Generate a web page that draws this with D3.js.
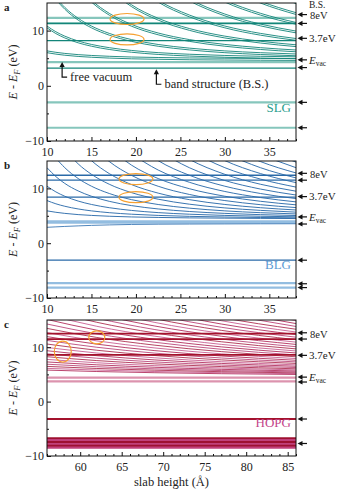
<!DOCTYPE html>
<html><head><meta charset="utf-8">
<script src="https://cdn.jsdelivr.net/npm/d3@7"></script>
<style>
body{margin:0;background:#fff}
svg{display:block}
text{font-family:"Liberation Serif","DejaVu Serif",serif;fill:#222}
</style>
</head><body>
<svg id="chart" width="339" height="492"></svg>
<script>
// ---------------- DATA ----------------
const yTicks = [-10, 0, 10];
const yMinor = [-5, 5];
const slgXTicks = [10, 15, 20, 25, 30, 35];
const hopgXTicks = [60, 65, 70, 75, 80, 85];

// slab heights (Å) at which the slab-state energies were read
const gridSLG = [10, 11, 12, 13.5, 15, 17, 19.5, 22.5, 26, 30, 34, 38];
const gridBLG = [10, 11, 12, 13.5, 15, 17, 19.5, 22.5, 26, 30, 34, 38];
const gridHOPG = [56, 62, 69, 77, 86];

// SLG slab states (eV) — each appears as a close pair of lines
const slgCurves = [
  [6.0,5.74,5.54,5.32,5.17,5.02,4.89,4.80,4.72,4.67,4.63,4.60],
  [10.5,9.46,8.67,7.79,7.17,6.58,6.08,5.68,5.39,5.17,5.02,4.92],
  [18.0,15.66,13.88,11.91,10.5,9.17,8.05,7.16,6.5,6.0,5.67,5.44],
  [null,null,null,17.67,15.17,12.8,10.8,9.24,8.05,7.17,6.58,6.16],
  [null,null,null,null,null,17.5,14.35,11.9,10.05,8.67,7.75,7.1],
  [null,null,null,null,null,null,18.7,15.16,12.5,10.5,9.17,8.24],
  [null,null,null,null,null,null,null,19.0,15.4,12.67,10.86,9.59],
  [null,null,null,null,null,null,null,null,18.7,15.17,12.81,11.15],
  [null,null,null,null,null,null,null,null,null,18.0,15.0,12.92],
  [null,null,null,null,null,null,null,null,null,null,17.48,14.89]
];
const slgFlatLight = [12.3, 11.3, 4.3, -3.0, -7.6];
const slgFlatDark = [11.3, 8.2, 3.2];
const slgArrows = [12.9, 11.3, 8.6, 4.7, 3.3, -3.0, -7.6];

// BLG slab states (eV)
const blgCurves = [
  [5.9,5.64,5.44,5.22,5.07,4.92,4.79,4.70,4.62,4.57,4.53,4.50],
  [7.78,7.19,6.74,6.25,5.9,5.57,5.29,5.07,4.9,4.78,4.69,4.63],
  [10.4,9.36,8.57,7.69,7.07,6.48,5.98,5.58,5.29,5.07,4.92,4.82],
  [13.78,12.15,10.91,9.54,8.57,7.64,6.86,6.25,5.79,5.44,5.21,5.05],
  [17.9,15.56,13.78,11.81,10.4,9.07,7.95,7.06,6.4,5.9,5.57,5.34],
  [null,null,17.16,14.48,12.57,10.76,9.23,8.03,7.12,6.44,5.99,5.67],
  [null,null,null,17.57,15.07,12.7,10.7,9.14,7.95,7.07,6.48,6.06],
  [null,null,null,null,17.9,14.91,12.38,10.39,8.9,7.78,7.03,6.5],
  [null,null,null,null,null,17.4,14.25,11.8,9.95,8.57,7.65,7.0],
  [null,null,null,null,null,null,16.3,13.35,11.12,9.44,8.33,7.54],
  [null,null,null,null,null,null,18.6,15.06,12.4,10.4,9.07,8.14],
  [null,null,null,null,null,null,null,16.9,13.78,11.44,9.88,8.79],
  [null,null,null,null,null,null,null,18.9,15.3,12.57,10.76,9.49],
  [null,null,null,null,null,null,null,null,16.9,13.78,11.7,10.24],
  [null,null,null,null,null,null,null,null,18.6,15.07,12.71,11.05],
  [null,null,null,null,null,null,null,null,null,16.4,13.78,11.91],
  [null,null,null,null,null,null,null,null,null,17.9,14.9,12.82],
  [null,null,null,null,null,null,null,null,null,null,16.1,13.78],
  [null,null,null,null,null,null,null,null,null,null,17.38,14.79]
];
const blgRising = [2.9, 2.98, 3.06, 3.16, 3.25, 3.34, 3.42, 3.47, 3.5, 3.52, 3.54, 3.55];
const blgFlatLight = [4.0, 3.75, -7.3, -8.1];
const blgFlatDark = [12.4, 11.5, 8.4, -3.1];
const blgArrows = [12.75, 11.5, 8.5, 4.8, 3.5, -3.1, -7.4, -8.1];

// HOPG slab states (eV)
const hopgCurves = [
  [5.79,5.53,5.31,5.13,4.99],
  [6.11,5.80,5.53,5.31,5.13],
  [6.47,6.09,5.77,5.50,5.28],
  [6.87,6.41,6.02,5.70,5.45],
  [7.29,6.76,6.31,5.93,5.63],
  [7.76,7.14,6.61,6.18,5.82],
  [8.25,7.54,6.94,6.44,6.03],
  [8.78,7.98,7.29,6.72,6.26],
  [9.35,8.44,7.66,7.02,6.50],
  [9.95,8.93,8.05,7.33,6.75],
  [10.58,9.44,8.47,7.67,7.02],
  [11.25,9.99,8.91,8.02,7.30],
  [11.95,10.56,9.37,8.39,7.60],
  [12.69,11.16,9.86,8.78,7.91],
  [13.46,11.79,10.37,9.19,8.24],
  [14.26,12.45,10.90,9.62,8.58],
  [15.10,13.13,11.45,10.06,8.94],
  [15.98,13.84,12.02,10.52,9.31],
  [16.88,14.58,12.62,11.00,9.69],
  [17.83,15.35,13.24,11.50,10.09],
  [18.80,16.15,13.89,12.02,10.51],
  [null,16.97,14.55,12.55,10.93],
  [null,17.83,15.24,13.10,11.38],
  [null,18.71,15.95,13.67,11.84],
  [null,null,16.68,14.26,12.31],
  [null,null,17.44,14.87,12.79],
  [null,null,18.22,15.49,13.30],
  [null,null,null,16.14,13.81],
  [null,null,null,16.80,14.34],
  [null,null,null,17.48,14.88]
];
const hopgFlatLight = [4.4, 3.7];
const hopgFlatDark = [12.5, 11.5, 8.6, -3.2];
const hopgBand = [-6.75, -7.1, -7.45, -7.8, -8.15, -8.45];
const hopgArrows = [12.65, 11.5, 8.5, 4.5, 3.6, -3.2, -7.7];

// orange rings (slab height, energy)
const slgRings = [[19, 12.1], [19, 8.4]];
const blgRings = [[20, 11.7], [20, 8.4]];
const hopgRings = [[57.9, 9.2, "tall"], [62, 11.8, "small"]];

// annotation arrows: tip (slab height, energy), label
const slgNotes = [[11.7, 4.3, "free vacuum"], [22.3, 3.0, "band structure (B.S.)"]];

// ---------------- DRAWING ----------------
const svg = d3.select("#chart");
const X0 = 47, X1 = 296;
const panels = [
  {id:"a", name:"SLG", top:3, bottom:141, xd:[10,38], xt:slgXTicks, grid:gridSLG, curves:slgCurves,
   light:slgFlatLight, dark:slgFlatDark, arrows:slgArrows, rings:slgRings, pairs:true,
   cDark:"#138579", cLight:"#86c6bc", cLabel:"#1f9c8d", curveColors:["#138579"], cw:0.9},
  {id:"b", name:"BLG", top:161, bottom:298, xd:[10,38], xt:slgXTicks, grid:gridBLG, curves:blgCurves,
   light:blgFlatLight, dark:blgFlatDark, arrows:blgArrows, rings:blgRings, pairs:false,
   cDark:"#2a6aa8", cLight:"#93bde0", cLabel:"#5c9bd4", curveColors:["#2f6eac"], cw:0.95},
  {id:"c", name:"HOPG", top:320, bottom:456, xd:[56,86], xt:hopgXTicks, grid:gridHOPG, curves:hopgCurves,
   light:hopgFlatLight, dark:hopgFlatDark, arrows:hopgArrows, rings:hopgRings, pairs:false,
   cDark:"#a3122c", cLight:"#dc93ae", cLabel:"#c4458a", curveColors:["#a8174a","#c24a84","#a3163c","#b3306a"], cw:0.8}
];

const defs = svg.append("defs");

panels.forEach((p) => {
  const x = d3.scaleLinear().domain(p.xd).range([X0, X1]);
  const y = d3.scaleLinear().domain([-10, 15]).range([p.bottom, p.top]);
  const g = svg.append("g");

  defs.append("clipPath").attr("id", "clip" + p.id)
    .append("rect").attr("x", X0).attr("y", p.top).attr("width", X1 - X0).attr("height", p.bottom - p.top);
  const plot = g.append("g").attr("clip-path", `url(#clip${p.id})`);

  // light flat band-structure levels
  plot.selectAll(".fl").data(p.light).join("line")
    .attr("x1", X0).attr("x2", X1).attr("y1", d => y(d)).attr("y2", d => y(d))
    .attr("stroke", p.cLight).attr("stroke-width", 2.2);

  if (p.id === "c") {
    plot.selectAll(".band").data(hopgBand).join("line")
      .attr("x1", X0).attr("x2", X1).attr("y1", d => y(d)).attr("y2", d => y(d))
      .attr("stroke", (d, i) => i % 2 ? "#c0407a" : "#9e1030").attr("stroke-width", 2.3);
  }

  const line = d3.line().defined(d => d[1] != null)
    .x(d => x(d[0])).y(d => y(d[1])).curve(d3.curveMonotoneX);

  const copies = p.pairs ? [0, -1.8] : [0];
  copies.forEach(off => {
    plot.append("g").attr("transform", `translate(0,${off})`)
      .selectAll("path").data(p.curves).join("path")
      .attr("d", c => line(p.grid.map((L, i) => [L, c[i]])))
      .attr("fill", "none")
      .attr("stroke", (d, i) => p.curveColors[i % p.curveColors.length])
      .attr("stroke-width", p.cw);
  });

  if (p.id === "b") {
    plot.append("path").attr("d", line(gridBLG.map((L, i) => [L, blgRising[i]])))
      .attr("fill", "none").attr("stroke", "#4f86bd").attr("stroke-width", 1);
  }

  // dark flat levels
  plot.selectAll(".fd").data(p.dark).join("line")
    .attr("x1", X0).attr("x2", X1).attr("y1", d => y(d)).attr("y2", d => y(d))
    .attr("stroke", p.cDark).attr("stroke-width", p.id === "c" ? 1.8 : 1.3);

  // orange rings
  g.selectAll(".ring").data(p.rings).join("ellipse")
    .attr("cx", d => x(d[0])).attr("cy", d => y(d[1]))
    .attr("rx", d => d[2] === "tall" ? 8.5 : (d[2] === "small" ? 8 : 17))
    .attr("ry", d => d[2] === "tall" ? 10.5 : (d[2] === "small" ? 6.5 : 5.5))
    .attr("fill", "none").attr("stroke", "#f6a030").attr("stroke-width", 1.2);

  // frame
  g.append("rect").attr("x", X0).attr("y", p.top).attr("width", X1 - X0).attr("height", p.bottom - p.top)
    .attr("fill", "none").attr("stroke", "#111").attr("stroke-width", 1);

  // axes
  const yAx = g.append("g").attr("transform", `translate(${X0},0)`)
    .call(d3.axisLeft(y).tickValues(yTicks).tickSize(-4).tickPadding(3).tickSizeOuter(0));
  const yAxM = g.append("g").attr("transform", `translate(${X0},0)`)
    .call(d3.axisLeft(y).tickValues(yMinor).tickSize(-2).tickFormat("").tickSizeOuter(0));
  const xMajor = p.xt;
  const xMinorVals = d3.range(Math.ceil(p.xd[0]), Math.floor(p.xd[1]) + 1).filter(v => !xMajor.includes(v));
  const xAx = g.append("g").attr("transform", `translate(0,${p.bottom})`)
    .call(d3.axisBottom(x).tickValues(xMajor).tickSize(-4).tickPadding(4).tickSizeOuter(0));
  const xAxM = g.append("g").attr("transform", `translate(0,${p.bottom})`)
    .call(d3.axisBottom(x).tickValues(xMinorVals).tickSize(-2).tickFormat("").tickSizeOuter(0));
  [yAx, yAxM, xAx, xAxM].forEach(a => {
    a.select(".domain").remove();
    a.selectAll("line").attr("stroke", "#111");
    a.selectAll("text").attr("font-size", 12).attr("fill", "#222")
      .attr("font-family", '"Liberation Serif", serif');
  });
  xAx.selectAll("text").attr("dy", "0.95em");

  // y label
  const yl = g.append("text").attr("transform", `translate(17,${(p.top + p.bottom) / 2}) rotate(-90)`)
    .attr("text-anchor", "middle").attr("font-size", 12);
  yl.append("tspan").attr("font-style", "italic").text("E");
  yl.append("tspan").text(" - ");
  yl.append("tspan").attr("font-style", "italic").text("E");
  yl.append("tspan").attr("font-size", 8.5).attr("font-style", "italic").attr("dy", 3).text("F");
  yl.append("tspan").attr("dy", -3).text(" (eV)");

  // panel letter
  g.append("text").attr("x", 4).attr("y", p.top + 8).attr("font-weight", "bold").attr("font-size", 11).text(p.id);

  // material label
  g.append("text").attr("x", X1 - 5).attr("y", y(-4.7)).attr("text-anchor", "end")
    .attr("font-size", 13).style("fill", p.cLabel).text(p.name);

  // arrows at the right
  p.arrows.forEach((e, i) => {
    const yy = y(e);
    g.append("path").attr("d", `M${X1 + 1.5},${yy} l5,-2.6 l0,5.2 z`).attr("fill", "#111");
    g.append("line").attr("x1", X1 + 5).attr("x2", X1 + 11).attr("y1", yy).attr("y2", yy)
      .attr("stroke", "#111").attr("stroke-width", 1.2);
    if (i === 0) g.append("text").attr("x", 310).attr("y", yy + 4.9).attr("font-size", 10.5).text("8eV");
    if (i === 2) g.append("text").attr("x", 309).attr("y", yy + 3.8).attr("font-size", 11).text("3.7eV");
    if (i === 3) {
      const t = g.append("text").attr("x", 309).attr("y", yy + 3.8).attr("font-size", 11);
      t.append("tspan").attr("font-style", "italic").text("E");
      t.append("tspan").attr("font-size", 7.5).attr("dy", 2).text("vac");
    }
  });

  if (p.id === "a") {
    g.append("text").attr("x", 309).attr("y", 8.3).attr("font-size", 9.5).text("B.S.");
    slgNotes.forEach(n => {
      const tx = x(n[0]), ty = y(n[1]);
      g.append("path").attr("d", `M${tx},${ty} l-2.6,5 l5.2,0 z`).attr("fill", "#111");
      g.append("path").attr("d", `M${tx},${ty + 4} V${ty + 15} H${tx + 5}`)
        .attr("fill", "none").attr("stroke", "#111").attr("stroke-width", 1.2);
      g.append("text").attr("x", tx + 8).attr("y", ty + 19).attr("font-size", 12.5).text(n[2]);
    });
  }
  if (p.id === "c") {
    g.append("text").attr("x", (X0 + X1) / 2).attr("y", 486).attr("text-anchor", "middle")
      .attr("font-size", 12.5).text("slab height (Å)");
  }
});
</script>
</body></html>
